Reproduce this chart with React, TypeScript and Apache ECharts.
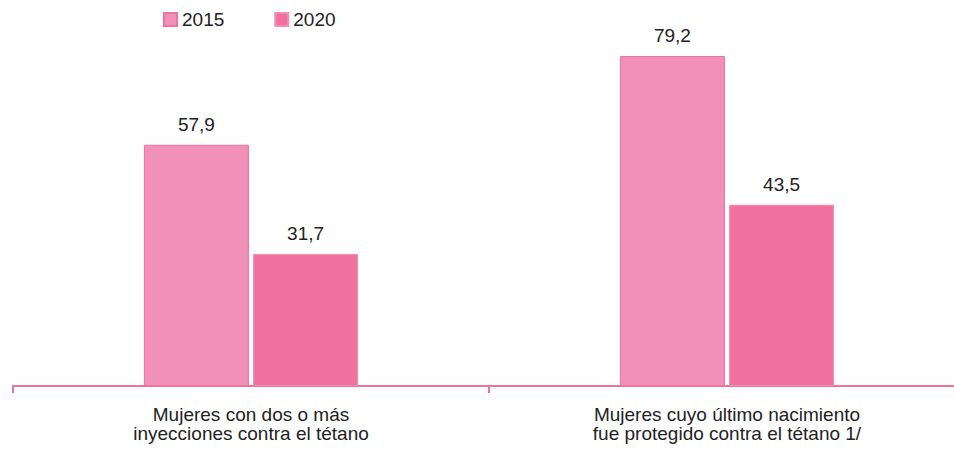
import React, { useEffect, useRef } from "react";
import * as echarts from "echarts";

const categories = [
  "Mujeres con dos o más\ninyecciones contra el tétano",
  "Mujeres cuyo último nacimiento\nfue protegido contra el tétano 1/",
];
const seriesNames = ["2015", "2020"];
const values2015 = [57.9, 79.2];
const values2020 = [31.7, 43.5];

const FONT = "'Liberation Sans', Arial, sans-serif";
const TEXT = "#222222";
const PINK_AXIS = "#F0709E";

export default function App() {
  const ref = useRef<HTMLDivElement>(null);
  useEffect(() => {
    if (!ref.current) return;
    const chart = echarts.init(ref.current, undefined, { renderer: "svg" });
    const fmt = (p: any) => String(p.value).replace(".", ",");
    chart.setOption({
      animation: false,
      textStyle: { fontFamily: FONT },
      legend: {
        left: 163,
        top: 10,
        padding: 0,
        itemWidth: 13,
        itemHeight: 13,
        itemGap: 50,
        icon: "rect",
        textStyle: { fontSize: 19, color: TEXT, fontFamily: FONT },
        data: seriesNames,
      },
      grid: { left: 13, right: 1, top: 11, bottom: 66, containLabel: false },
      xAxis: {
        type: "category",
        data: categories,
        axisLine: { show: true, lineStyle: { color: PINK_AXIS, width: 2 } },
        axisTick: { show: true, interval: 0, length: 7, lineStyle: { color: PINK_AXIS, width: 2 } },
        axisLabel: {
          interval: 0,
          margin: 19,
          fontSize: 19,
          lineHeight: 19,
          color: TEXT,
          fontFamily: FONT,
        },
      },
      yAxis: { type: "value", min: 0, max: 90, show: false, splitLine: { show: false } },
      series: [
        {
          name: seriesNames[0],
          type: "bar",
          data: values2015,
          barWidth: 105,
          barGap: "4%",
          itemStyle: { color: "#F191B8", borderColor: "#EE72A2", borderWidth: 1 },
          label: {
            show: true,
            position: "top",
            distance: 11,
            formatter: fmt,
            fontSize: 19,
            color: TEXT,
            fontFamily: FONT,
          },
        },
        {
          name: seriesNames[1],
          type: "bar",
          data: values2020,
          barWidth: 105,
          itemStyle: { color: "#F0709E", borderColor: "#F38DB2", borderWidth: 1 },
          label: {
            show: true,
            position: "top",
            distance: 11,
            formatter: fmt,
            fontSize: 19,
            color: TEXT,
            fontFamily: FONT,
          },
        },
      ],
    });
    return () => chart.dispose();
  }, []);
  return (
    <div
      style={{
        position: "absolute",
        left: 0,
        top: 0,
        width: 954,
        height: 452,
        overflow: "hidden",
        background: "#fff",
      }}
    >
      <div ref={ref} style={{ width: 966, height: 452 }} />
    </div>
  );
}
